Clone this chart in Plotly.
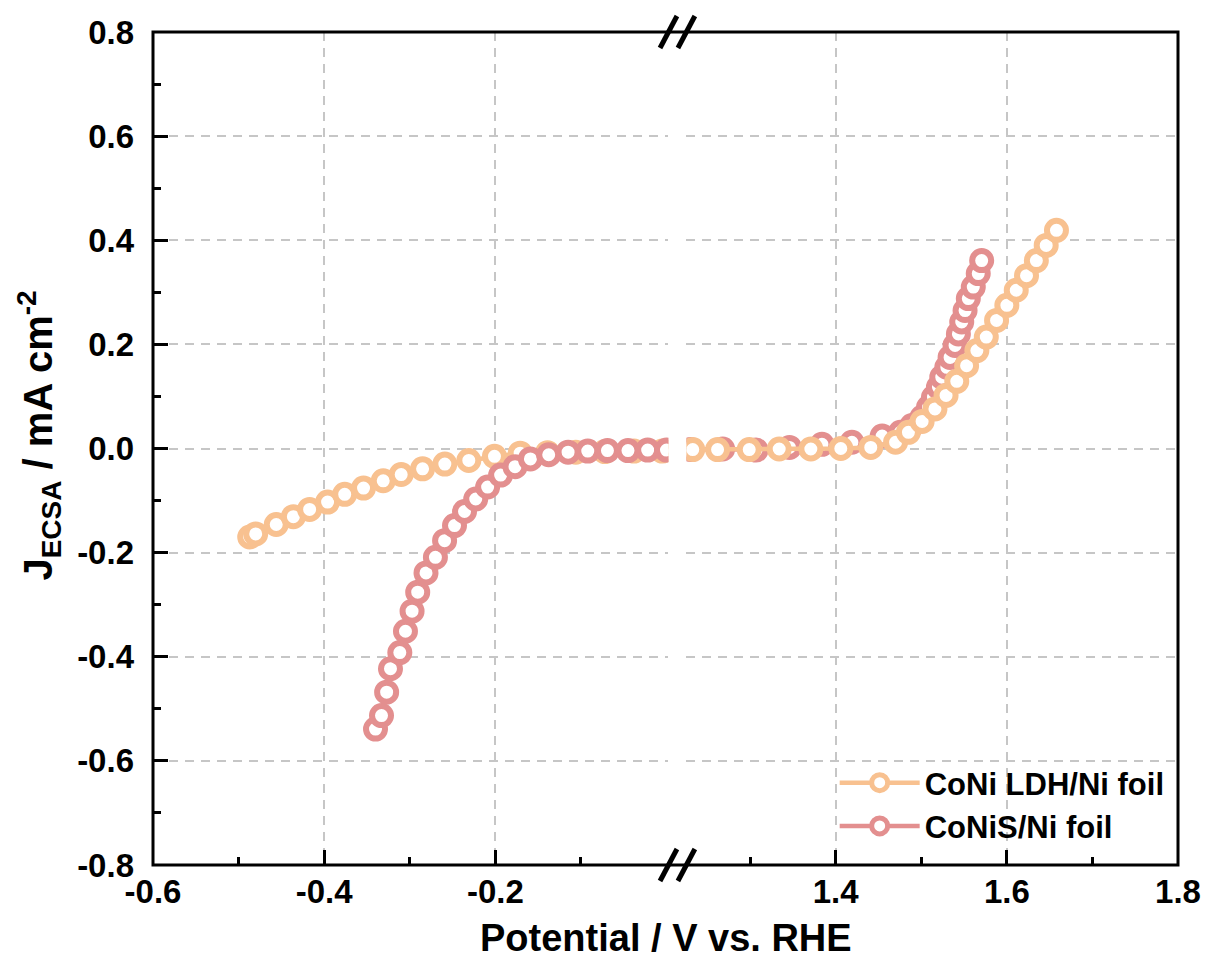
import plotly.graph_objects as go

# ---------------- data ----------------
ldh_x = [-0.487, -0.480, -0.456, -0.436, -0.417, -0.396, -0.376, -0.354, -0.331, -0.310,
         -0.285, -0.259, -0.231, -0.201, -0.171, -0.139, -0.106, -0.072, -0.038, -0.005,
         1.233, 1.262, 1.299, 1.334, 1.371, 1.406, 1.441, 1.470, 1.485, 1.501, 1.516,
         1.529, 1.5415, 1.553, 1.565, 1.576, 1.588, 1.600, 1.611, 1.623, 1.6345, 1.646, 1.658]
ldh_y = [-0.170, -0.164, -0.146, -0.131, -0.117, -0.103, -0.088, -0.076, -0.062, -0.050,
         -0.039, -0.030, -0.023, -0.015, -0.009, -0.008, -0.007, -0.006, -0.005, -0.005,
         -0.002, -0.002, -0.002, -0.001, -0.001, 0.000, 0.002, 0.012, 0.031, 0.052, 0.076,
         0.102, 0.129, 0.159, 0.188, 0.214, 0.246, 0.275, 0.304, 0.332, 0.361, 0.390, 0.419]

cns_x = [-0.340, -0.333, -0.327, -0.3225, -0.3116, -0.305, -0.2973, -0.2907, -0.281, -0.270,
         -0.2593, -0.2477, -0.236, -0.2229, -0.209, -0.1938, -0.177, -0.159, -0.1376, -0.115,
         -0.092, -0.069, -0.045, -0.022, 0.000,
         1.230, 1.268, 1.307, 1.346, 1.384, 1.419, 1.4543, 1.4756, 1.489, 1.5008, 1.5085,
         1.5143, 1.5201, 1.524, 1.5299, 1.5337, 1.5395, 1.5434, 1.5473, 1.5512, 1.555,
         1.5608, 1.5666, 1.5706]
cns_y = [-0.539, -0.513, -0.468, -0.423, -0.392, -0.351, -0.3125, -0.276, -0.239, -0.209,
         -0.177, -0.148, -0.121, -0.097, -0.074, -0.051, -0.035, -0.020, -0.012, -0.007,
         -0.005, -0.004, -0.004, -0.003, -0.003,
         -0.002, -0.001, -0.003, 0.002, 0.008, 0.012, 0.024, 0.031, 0.044, 0.060, 0.079,
         0.0985, 0.118, 0.137, 0.156, 0.175, 0.198, 0.220, 0.243, 0.265, 0.288,
         0.310, 0.336, 0.361]

series_names = ["CoNi LDH/Ni foil", "CoNiS/Ni foil"]
colors = ["#F8C190", "#E38F8F"]

left_ticks = [-0.6, -0.4, -0.2]
left_tick_text = ["-0.6", "-0.4", "-0.2"]
left_minor = [-0.5, -0.3, -0.1]
right_ticks = [1.4, 1.6, 1.8]
right_tick_text = ["1.4", "1.6", "1.8"]
right_minor = [1.3, 1.5, 1.7]
y_ticks = [-0.8, -0.6, -0.4, -0.2, 0.0, 0.2, 0.4, 0.6, 0.8]
y_tick_text = ["-0.8", "-0.6", "-0.4", "-0.2", "0.0", "0.2", "0.4", "0.6", "0.8"]
y_minor = [-0.7, -0.5, -0.3, -0.1, 0.1, 0.3, 0.5, 0.7]

BREAK = 0.6  # values below belong to left segment

# ---------------- layout geometry ----------------
W, H = 1213, 966
ML, MR, MT, MB = 153, 30, 32, 101
PW, PH = W - ML - MR, H - MT - MB
left_dom = [0, 518 / PW]
right_dom = [536 / PW, 1]
left_range = [-0.6, -0.6 + 518 / 860]
right_range = [1.8 - (PW - 536) / 860, 1.8]

FONT = "Liberation Sans, Arial, sans-serif"


def split(xs, ys, left=True):
    px, py = [], []
    for a, b in zip(xs, ys):
        if (a < BREAK) == left:
            px.append(a)
            py.append(b)
    return px, py


def trace(xs, ys, name, color, xaxis, showlegend):
    return go.Scatter(
        x=xs, y=ys, xaxis=xaxis, yaxis="y", name=name, mode="lines+markers",
        showlegend=showlegend, legendgroup=name,
        line=dict(color=color, width=4.5),
        marker=dict(symbol="circle", size=19, color="white",
                    line=dict(color=color, width=6)),
    )


fig = go.Figure()
# left segment: LDH below, CoNiS on top
x, y = split(ldh_x, ldh_y, True)
fig.add_trace(trace(x, y, series_names[0], colors[0], "x", True))
x, y = split(cns_x, cns_y, True)
fig.add_trace(trace(x, y, series_names[1], colors[1], "x", True))
# right segment: CoNiS below, LDH on top
x, y = split(cns_x, cns_y, False)
fig.add_trace(trace(x, y, series_names[1], colors[1], "x2", False))
x, y = split(ldh_x, ldh_y, False)
fig.add_trace(trace(x, y, series_names[0], colors[0], "x2", False))

grid = dict(showgrid=True, gridcolor="#C6C6C6", gridwidth=1.6, griddash="9px,7px",
            zeroline=False, showline=False, ticks="inside", ticklen=15,
            tickwidth=3, tickcolor="black",
            tickfont=dict(family=FONT, size=33, color="black", weight="bold"))

fig.update_layout(
    width=W, height=H,
    margin=dict(l=ML, r=MR, t=MT, b=MB),
    paper_bgcolor="white", plot_bgcolor="white",
    font=dict(family=FONT, color="black", weight="bold"),
    xaxis=dict(domain=left_dom, range=left_range, anchor="y",
               tickmode="array", tickvals=left_ticks, ticktext=left_tick_text,
               minor=dict(tickvals=left_minor, ticks="inside", ticklen=8,
                          tickwidth=3, tickcolor="black", showgrid=False),
               ticklabelstandoff=4, **grid),
    xaxis2=dict(domain=right_dom, range=right_range, anchor="y",
                tickmode="array", tickvals=right_ticks, ticktext=right_tick_text,
                minor=dict(tickvals=right_minor, ticks="inside", ticklen=8,
                           tickwidth=3, tickcolor="black", showgrid=False),
                ticklabelstandoff=4, **grid),
    yaxis=dict(domain=[0, 1], range=[-0.8, 0.8], anchor="x",
               tickmode="array", tickvals=y_ticks, ticktext=y_tick_text,
               minor=dict(tickvals=y_minor, ticks="inside", ticklen=8,
                          tickwidth=3, tickcolor="black", showgrid=False),
               ticklabelstandoff=18, **grid),
    legend=dict(x=(838 - ML) / PW, y=(865 - 853) / PH, xanchor="left", yanchor="bottom",
                bgcolor="rgba(0,0,0,0)", borderwidth=0, itemwidth=80,
                font=dict(family=FONT, size=31, color="black", weight="bold"),
                tracegroupgap=0, traceorder="normal"),
)

# frame
shapes = [dict(type="rect", xref="paper", yref="paper", x0=0, x1=1, y0=0, y1=1,
               line=dict(color="black", width=3), layer="above")]
# break marks at top and bottom
dx, dy = 8.5 / PW, 16 / PH
for xc in (left_dom[1], right_dom[0]):
    for yc in (0, 1):
        shapes.append(dict(type="line", xref="paper", yref="paper",
                           x0=xc - dx, y0=yc - dy, x1=xc + dx, y1=yc + dy,
                           line=dict(color="black", width=5), layer="above"))
fig.update_layout(shapes=shapes)

# axis titles
fig.add_annotation(text="Potential / V vs. RHE", xref="paper", yref="paper",
                   x=0.5, y=-(938 - 865) / PH, xanchor="center", yanchor="middle",
                   showarrow=False, font=dict(family=FONT, size=38, color="black", weight="bold"))
fig.add_annotation(text="J<sub>ECSA</sub> / mA cm<sup>-2</sup>", xref="paper", yref="paper",
                   x=-(153 - 38) / PW, y=(865 - 436) / PH, xanchor="center", yanchor="middle",
                   textangle=-90, showarrow=False,
                   font=dict(family=FONT, size=40, color="black", weight="bold"))

fig.write_html("out.html")
